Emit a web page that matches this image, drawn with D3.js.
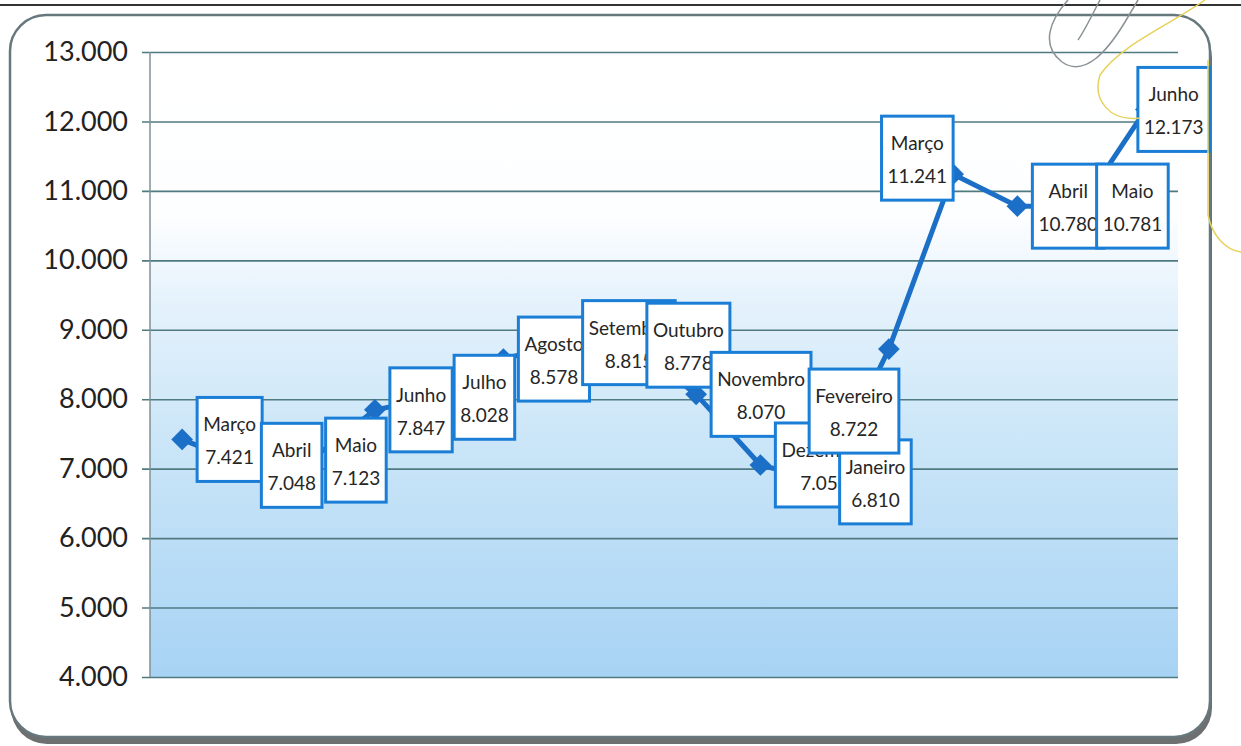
<!DOCTYPE html>
<html>
<head>
<meta charset="utf-8">
<script src="https://cdn.jsdelivr.net/npm/d3@7"></script>
<style>
  body { margin: 0; background: #fff; }
  svg { display: block; }
</style>
</head>
<body>
<div id="chart"></div>
<script>
// data
var months = ["Março", "Abril", "Maio", "Junho", "Julho", "Agosto", "Setembro", "Outubro",
              "Novembro", "Dezembro", "Janeiro", "Fevereiro", "Março", "Abril", "Maio", "Junho"];
var values = [7421, 7048, 7123, 7847, 8028, 8578, 8815, 8778,
              8070, 7053, 6810, 8722, 11241, 10780, 10781, 12173];
var yTicks = [4000, 5000, 6000, 7000, 8000, 9000, 10000, 11000, 12000, 13000];

// where each label sits relative to its point (layout only)
var labelPlace = ["right", "right", "right", "right", "right", "right", "right", "right",
                  "right", "right", "right", "belowLeft", "aboveLeft", "right", "right", "over"];

var svgWidth = 1241;
var svgHeight = 746;

var plot = { left: 150, right: 1178, top: 52, bottom: 677 };

var svg = d3.select("#chart")
  .append("svg")
  .attr("width", svgWidth)
  .attr("height", svgHeight);

var defs = svg.append("defs");
var grad = defs.append("linearGradient")
  .attr("id", "bg")
  .attr("x1", 0).attr("y1", 0).attr("x2", 0).attr("y2", 1);
[["0%", "#ffffff"], ["26%", "#fdfeff"], ["40%", "#e5f2fc"],
 ["60%", "#cde7f8"], ["100%", "#a7d3f4"]].forEach(function(s) {
  grad.append("stop").attr("offset", s[0]).attr("stop-color", s[1]);
});

// page line at top
svg.append("line")
  .attr("x1", 0).attr("x2", svgWidth)
  .attr("y1", 5).attr("y2", 5)
  .attr("stroke", "#333").attr("stroke-width", 2);

// shadow band + frame
svg.append("rect")
  .attr("x", 11).attr("y", 22)
  .attr("width", 1201).attr("height", 722)
  .attr("rx", 36)
  .attr("fill", "#6d6f70");
svg.append("rect")
  .attr("x", 10).attr("y", 15)
  .attr("width", 1200).attr("height", 722)
  .attr("rx", 36)
  .attr("fill", "#ffffff")
  .attr("stroke", "#66787e")
  .attr("stroke-width", 2.5);

// scales
var x = d3.scaleBand()
  .domain(d3.range(months.length))
  .range([plot.left, plot.right]);

var y = d3.scaleLinear()
  .domain([4000, 13000])
  .range([plot.bottom, plot.top]);

var px = i => x(i) + x.bandwidth() / 2;

// plot background
svg.append("rect")
  .attr("x", plot.left).attr("y", plot.top)
  .attr("width", plot.right - plot.left)
  .attr("height", plot.bottom - plot.top)
  .attr("fill", "url(#bg)");

// y axis with gridlines
var locale = d3.formatLocale({ decimal: ",", thousands: ".", grouping: [3], currency: ["", ""] });
var fmt = locale.format(",d");

var yAxis = svg.append("g")
  .attr("transform", `translate(${plot.left}, 0)`)
  .call(d3.axisLeft(y)
    .tickValues(yTicks)
    .tickFormat(fmt)
    .tickSizeInner(-(plot.right - plot.left))
    .tickSizeOuter(0)
    .tickPadding(22));

yAxis.select(".domain").remove();
yAxis.selectAll(".tick line")
  .attr("x1", -8)
  .attr("stroke", "#4f7a80")
  .attr("stroke-width", 1.6);
yAxis.selectAll(".tick text")
  .attr("fill", "#222")
  .style("font-family", "Lato, 'Open Sans', sans-serif")
  .style("font-size", "27px");

svg.append("line")
  .attr("x1", plot.left).attr("x2", plot.left)
  .attr("y1", plot.top).attr("y2", plot.bottom)
  .attr("stroke", "#7f9196").attr("stroke-width", 1.5);

// series line
var line = d3.line()
  .x((d, i) => px(i))
  .y(d => y(d));

svg.append("path")
  .datum(values)
  .attr("fill", "none")
  .attr("stroke", "#1c6fc6")
  .attr("stroke-width", 5)
  .attr("stroke-linejoin", "round")
  .attr("d", line);

// diamond markers
svg.append("g")
  .selectAll("path")
  .data(values)
  .enter()
  .append("path")
  .attr("transform", (d, i) => `translate(${px(i)}, ${y(d)})`)
  .attr("d", d3.symbol().type(d3.symbolDiamond2).size(300))
  .attr("fill", "#1c6fc6");

// data labels
var labels = svg.append("g")
  .style("font-family", "Lato, 'Open Sans', sans-serif")
  .style("font-size", "19px");

values.forEach(function(v, i) {
  var g = labels.append("g");
  var t1 = g.append("text").attr("text-anchor", "middle").attr("fill", "#262626").text(months[i]);
  var t2 = g.append("text").attr("text-anchor", "middle").attr("fill", "#262626").text(fmt(v));
  var w = Math.max(t1.node().getComputedTextLength(), t2.node().getComputedTextLength()) + 12;
  var h = 84;
  var cx = px(i), cy = y(v);
  var bx, by;
  if (labelPlace[i] === "belowLeft") { bx = cx + 10 - w; by = cy + 20; }
  else if (labelPlace[i] === "aboveLeft") { bx = cx - w; by = cy - 16 - h / 2; }
  else if (labelPlace[i] === "over") { bx = cx - 8; by = cy - h / 2; }
  else { bx = cx + 15; by = cy - h / 2; }

  g.insert("rect", "text")
    .attr("x", bx).attr("y", by)
    .attr("width", w).attr("height", h)
    .attr("fill", "#ffffff")
    .attr("stroke", "#1b7ed6")
    .attr("stroke-width", 3);
  t1.attr("x", bx + w / 2).attr("y", by + 34);
  t2.attr("x", bx + w / 2).attr("y", by + 67);
});

// paperclip marks from the scan
svg.append("path")
  .attr("d", "M1068,0 C1050,20 1040,45 1062,62 C1085,78 1108,50 1125,22 L1138,0 M1100,0 C1092,15 1085,30 1078,40")
  .attr("fill", "none").attr("stroke", "#8a9296").attr("stroke-width", 1.5);
svg.append("path")
  .attr("d", "M1205,0 C1170,25 1120,45 1100,75 C1092,100 1110,122 1140,118 M1208,60 L1208,215 C1212,235 1225,250 1241,252")
  .attr("fill", "none").attr("stroke", "#e6d25a").attr("stroke-width", 1.5);
</script>
</body>
</html>
